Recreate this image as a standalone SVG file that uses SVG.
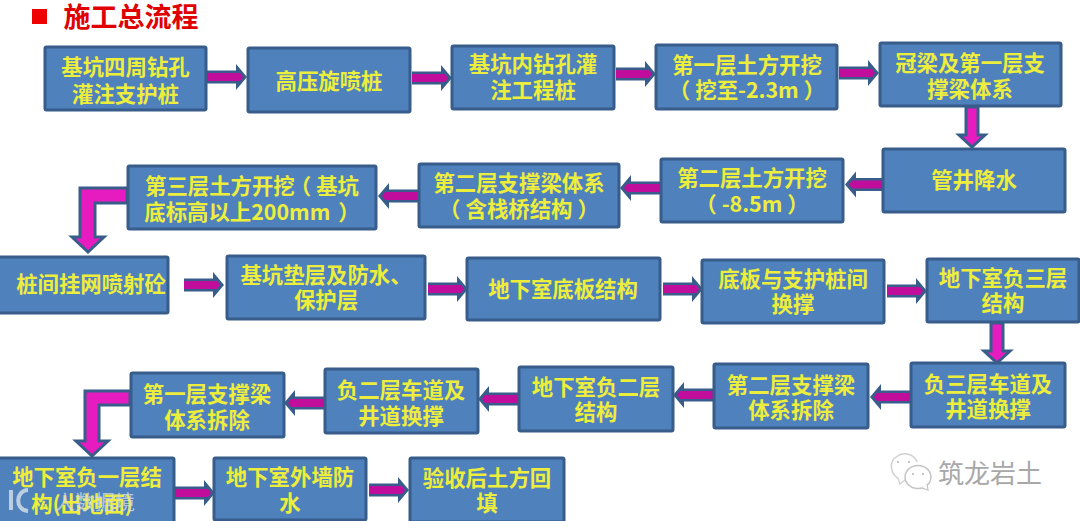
<svg xmlns="http://www.w3.org/2000/svg" width="1080" height="521" viewBox="0 0 1080 521">
<style>
.n{fill:#4f81bd;stroke:#385d8a;stroke-width:3}
.t{font:700 21.4px "Noto Sans CJK SC","Noto Sans",sans-serif;fill:#eded3c;text-anchor:middle}
.a{fill:#e61cc0;stroke:#385d8a;stroke-width:3;stroke-linejoin:miter}
.h{fill:#c00d9c}
.ah{fill:#385d8a}
</style>
<defs>
<g id="ar"><path class="ah" d="M29 -13L40 0L29 13Z"/><rect x="0" y="-6.500" width="30" height="13" fill="#385d8a"/><path d="M0 -4H33L36 0L33 4H0Z" class="h"/></g>
<g id="ad"><path d="M-6 0H6V28H13L0 40L-13 28H-6Z" class="a"/></g>
</defs>
<rect width="1080" height="521" fill="#fff"/>
<rect x="32" y="9" width="15" height="15" fill="#ee0000"/>
<text x="131" y="27" style="font:700 27px 'Noto Sans CJK SC',sans-serif;fill:#e00000;text-anchor:middle">施工总流程</text>
<g id="connectors">
<use href="#ar" x="207" y="77"/>
<use href="#ar" x="412" y="78"/>
<use href="#ar" x="616" y="74"/>
<use href="#ar" x="839" y="73"/>
<use href="#ad" x="972" y="107"/>
<use href="#ar" transform="translate(885 184.500) scale(-1 1)"/>
<use href="#ar" transform="translate(660 188) scale(-1 1)"/>
<use href="#ar" transform="translate(418 196) scale(-1 1)"/>
<path class="a" d="M127 188H80V237H72L88 252L104 237H95V203H127Z"/>
<use href="#ar" x="184" y="285"/>
<use href="#ar" x="428" y="289"/>
<use href="#ar" x="663" y="289"/>
<use href="#ar" x="887" y="291"/>
<use href="#ad" x="997" y="323"/>
<use href="#ar" transform="translate(910 397) scale(-1 1)"/>
<use href="#ar" transform="translate(713 395) scale(-1 1)"/>
<use href="#ar" transform="translate(518 399) scale(-1 1)"/>
<use href="#ar" transform="translate(324 403) scale(-1 1)"/>
<path class="a" d="M130 391H85V441H76L92 456L108 441H99V405H130Z"/>
<use href="#ar" x="175" y="493"/>
<use href="#ar" x="369" y="490"/>
</g>
<g id="n1"><rect class="n" x="45" y="47" width="161" height="63" rx="1.500"/><text class="t" x="125.500" y="75">基坑四周钻孔</text><text class="t" x="125.500" y="102">灌注支护桩</text></g>
<g id="n2"><rect class="n" x="248" y="48" width="162" height="64" rx="1.500"/><text class="t" x="329" y="89">高压旋喷桩</text></g>
<g id="n3"><rect class="n" x="452" y="46" width="162" height="63" rx="1.500"/><text class="t" x="533" y="72">基坑内钻孔灌</text><text class="t" x="533" y="98">注工程桩</text></g>
<g id="n4"><rect class="n" x="656" y="45" width="181" height="64" rx="1.500"/><text class="t" x="747" y="73">第一层土方开挖</text><text class="t" x="747" y="98">（<tspan dx="5">挖至-2.3m</tspan><tspan dx="5">）</tspan></text></g>
<g id="n5"><rect class="n" x="880" y="43" width="181" height="63" rx="1.500"/><text class="t" x="970" y="71">冠梁及第一层支</text><text class="t" x="970" y="97">撑梁体系</text></g>
<g id="n6"><rect class="n" x="883" y="149" width="182" height="63" rx="1.500"/><text class="t" x="974" y="188">管井降水</text></g>
<g id="n7"><rect class="n" x="661" y="159" width="182" height="63" rx="1.500"/><text class="t" x="752" y="186">第二层土方开挖</text><text class="t" x="752" y="212">（<tspan dx="5">-8.5m</tspan><tspan dx="5">）</tspan></text></g>
<g id="n8"><rect class="n" x="419" y="164" width="200" height="63" rx="1.500"/><text class="t" x="519" y="191">第二层支撑梁体系</text><text class="t" x="519" y="217">（<tspan dx="5">含栈桥结构</tspan><tspan dx="5">）</tspan></text></g>
<g id="n9"><rect class="n" x="128" y="166" width="248" height="63" rx="1.500"/><text class="t" x="252" y="194">第三层土方开挖<tspan dx="-5">（</tspan><tspan dx="5">基坑</tspan></text><text class="t" x="252" y="220">底标高以上200mm<tspan dx="8">）</tspan></text></g>
<g id="n10"><rect class="n" x="-5" y="257" width="173" height="56" rx="1.500"/><text class="t" x="91" y="292">桩间挂网喷射砼</text></g>
<g id="n11"><rect class="n" x="227" y="256" width="198" height="63" rx="1.500"/><text class="t" x="326" y="283">基坑垫层及防水、</text><text class="t" x="326" y="308">保护层</text></g>
<g id="n12"><rect class="n" x="467" y="258" width="193" height="62" rx="1.500"/><text class="t" x="563" y="297">地下室底板结构</text></g>
<g id="n13"><rect class="n" x="702" y="260" width="182" height="63" rx="1.500"/><text class="t" x="793" y="287">底板与支护桩间</text><text class="t" x="793" y="312">换撑</text></g>
<g id="n14"><rect class="n" x="927" y="259" width="152" height="63" rx="1.500"/><text class="t" x="1003" y="286">地下室负三层</text><text class="t" x="1003" y="311">结构</text></g>
<g id="n15"><rect class="n" x="911" y="363" width="154" height="64" rx="1.500"/><text class="t" x="988" y="392">负三层车道及</text><text class="t" x="988" y="417">井道换撑</text></g>
<g id="n16"><rect class="n" x="714" y="364" width="154" height="64" rx="1.500"/><text class="t" x="791" y="393">第二层支撑梁</text><text class="t" x="791" y="418">体系拆除</text></g>
<g id="n17"><rect class="n" x="519" y="367" width="154" height="64" rx="1.500"/><text class="t" x="596" y="395">地下室负二层</text><text class="t" x="596" y="420">结构</text></g>
<g id="n18"><rect class="n" x="325" y="369" width="153" height="64" rx="1.500"/><text class="t" x="401" y="398">负二层车道及</text><text class="t" x="401" y="424">井道换撑</text></g>
<g id="n19"><rect class="n" x="131" y="373" width="153" height="64" rx="1.500"/><text class="t" x="207" y="402">第一层支撑梁</text><text class="t" x="207" y="428">体系拆除</text></g>
<g id="n20"><rect class="n" x="-5" y="458" width="179" height="66" rx="1.500"/><text class="t" x="87" y="485">地下室负一层结</text><text class="t" x="82" y="512">构(出地面)</text></g>
<g id="n21"><rect class="n" x="214" y="458" width="152" height="62" rx="1.500"/><text class="t" x="290" y="485">地下室外墙防</text><text class="t" x="290" y="511">水</text></g>
<g id="n22"><rect class="n" x="410" y="458" width="154" height="64" rx="1.500"/><text class="t" x="487" y="486">验收后土方回</text><text class="t" x="487" y="511">填</text></g>
<g id="wm">
<text x="938" y="483" style="font:400 26px 'Noto Sans CJK SC',sans-serif;fill:#a8a8a8">筑龙岩土</text>
<path d="M899 479C890 474 889 462 896 457C904 451 914 454 917 462" fill="#fff" stroke="#cfcfcf" stroke-width="1.500"/>
<path d="M898 478L900 484L905 480" fill="#fff" stroke="#cfcfcf" stroke-width="1.200"/>
<ellipse cx="918" cy="477" rx="13" ry="11.500" fill="#fff" stroke="#c4c4c4" stroke-width="1.500"/>
<path d="M922 488L928 490L927 484" fill="#fff" stroke="#c4c4c4" stroke-width="1.200"/>
<g fill="#b5b5b5"><circle cx="898" cy="462" r="1"/><circle cx="909" cy="462" r="1"/><circle cx="913" cy="474" r="1"/><circle cx="923" cy="474" r="1"/></g>
</g>
<g id="wm2" opacity=".75">
<path d="M11 490V510M28 490C16 490 14 510 28 511" fill="none" stroke="#e4e8ee" stroke-width="4"/>
<text x="55" y="510" style="font:400 20px 'Noto Sans CJK SC',sans-serif;fill:#d8dde4">人数据境</text>
</g>
</svg>
